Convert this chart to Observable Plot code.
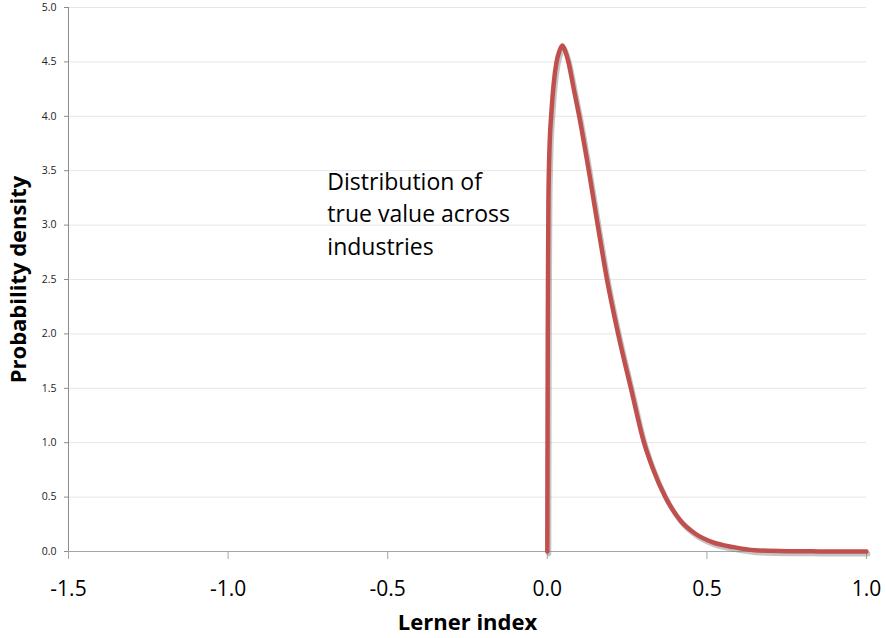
<!DOCTYPE html>
<html>
<head>
<meta charset="utf-8">
<script src="https://cdn.jsdelivr.net/npm/d3@7"></script>
<script src="https://cdn.jsdelivr.net/npm/@observablehq/plot@0.6"></script>
<style>
  html, body { margin: 0; padding: 0; background: #fff; }
  #chart { width: 886px; height: 638px; }
  svg text { font-variant-ligatures: none; }
</style>
</head>
<body>
<div id="chart"></div>
<script>
// Lerner index (x) and probability density (y)
const lerner = [0, 0.0007, 0.0015, 0.0025, 0.0035, 0.005, 0.008, 0.012, 0.020, 0.029, 0.038, 0.047, 0.056, 0.066, 0.083, 0.100, 0.130, 0.158, 0.187, 0.222, 0.262, 0.303, 0.329, 0.370, 0.417, 0.464, 0.517, 0.584, 0.650, 0.750, 0.850, 1.000];
const density = [0, 1.0, 2.0, 2.7, 3.2, 3.5, 3.8, 4.0, 4.3, 4.5, 4.6, 4.65, 4.6, 4.5, 4.25, 4.0, 3.5, 3.0, 2.5, 2.0, 1.5, 1.0, 0.775, 0.5, 0.285, 0.163, 0.086, 0.04, 0.012, 0.003, 0.001, 0];

const xTicks = [-1.5, -1.0, -0.5, 0.0, 0.5, 1.0];
const yTicks = [0, 0.5, 1.0, 1.5, 2.0, 2.5, 3.0, 3.5, 4.0, 4.5, 5.0];
const xDomain = [-1.5, 1.0];
const yDomain = [0, 5];

const noteX = [-0.689];
const noteY = [3.53];
const noteText = ["Distribution of\ntrue value across\nindustries"];

const curve = lerner.map((x, i) => ({x, y: density[i]}));
const notes = noteX.map((x, i) => ({x, y: noteY[i], text: noteText[i]}));

const fmt = d => d.toFixed(1);
const font = "'Open Sans', Lato, sans-serif";

const chart = Plot.plot({
  width: 886,
  height: 638,
  marginLeft: 68,
  marginRight: 20,
  marginTop: 7,
  marginBottom: 87,
  style: {fontFamily: font, background: "#fff", color: "#000"},
  x: {domain: xDomain},
  y: {domain: yDomain},
  marks: [
    Plot.gridY(yTicks.filter(d => d > 0), {stroke: "#e6e6e6", strokeOpacity: 1}),
    Plot.ruleX([xDomain[0]], {stroke: "#8c8c8c"}),
    Plot.ruleY([0], {stroke: "#a6a6a6", strokeWidth: 1.2}),
    Plot.axisY({ticks: yTicks, tickFormat: fmt, fontSize: 10.5, tickSize: 4, tickPadding: 8, stroke: "#8c8c8c", fill: "#222",
      label: "Probability density", labelAnchor: "center", labelArrow: "none", labelOffset: 58}),
    Plot.axisX({ticks: xTicks, tickFormat: fmt, fontSize: 21, tickSize: 8, tickPadding: 22, stroke: "#a6a6a6", fill: "#000",
      label: "Lerner index", labelAnchor: "center", labelArrow: "none", labelOffset: 78}),
    Plot.line(curve, {x: "x", y: "y", curve: "monotone-x", stroke: "#7f7f7f", strokeOpacity: 0.45, strokeWidth: 5, dx: 1.5, dy: 2.5}),
    Plot.line(curve, {x: "x", y: "y", curve: "monotone-x", stroke: "#C0504D", strokeWidth: 4.5}),
    Plot.text(notes, {x: "x", y: "y", text: "text", textAnchor: "start", lineAnchor: "top", fontSize: 23, lineHeight: 1.4, fill: "#000"})
  ]
});

// Bold axis labels
d3.select(chart).selectAll("g[aria-label='y-axis label'] text, g[aria-label='x-axis label'] text")
  .style("font-size", "22px").style("font-weight", "bold").attr("fill", "#000");

document.getElementById("chart").appendChild(chart);
</script>
</body>
</html>
